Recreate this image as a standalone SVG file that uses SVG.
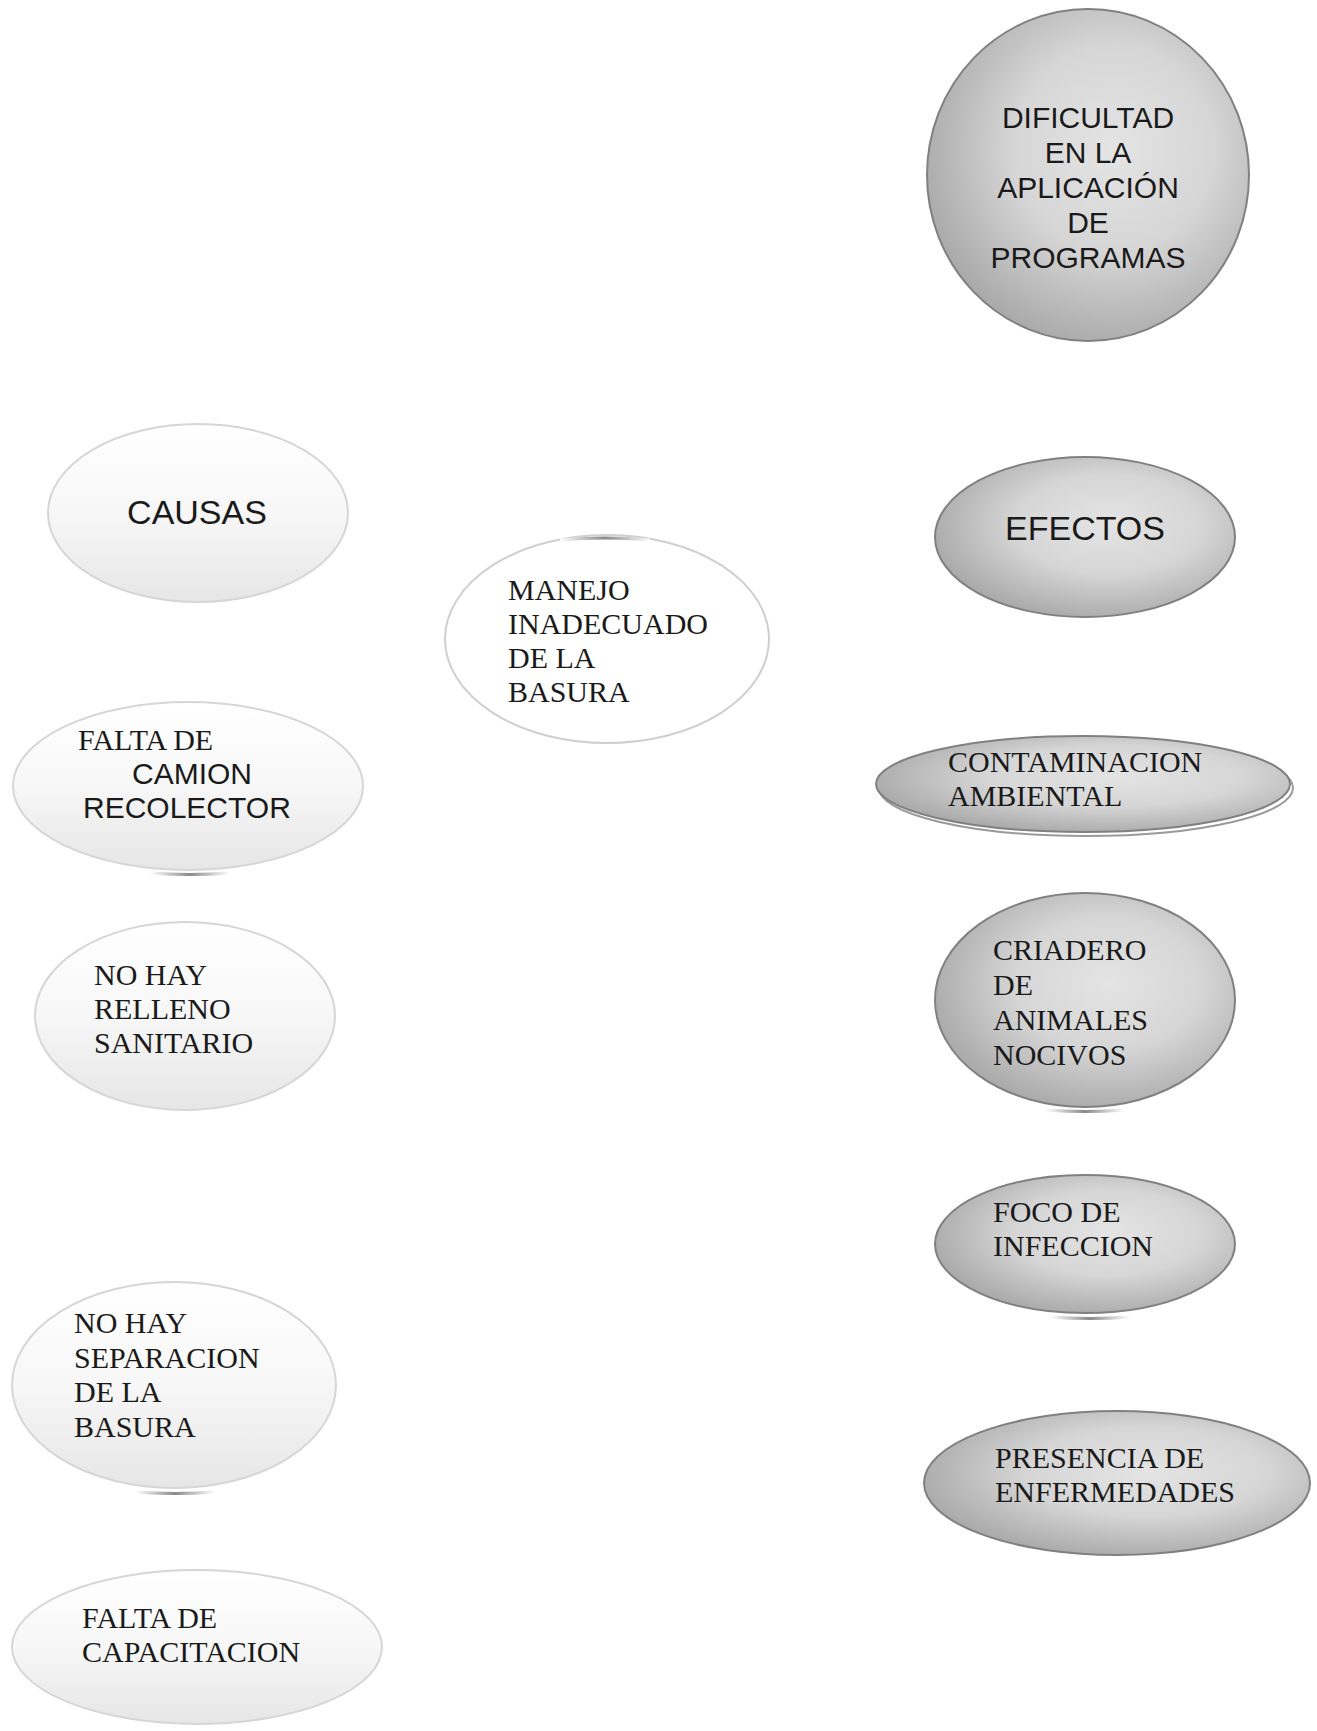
<svg xmlns="http://www.w3.org/2000/svg" width="1317" height="1731" viewBox="0 0 1317 1731">
<defs>
<linearGradient id="light" x1="0" y1="0" x2="0" y2="1">
<stop offset="0" stop-color="#ffffff"/>
<stop offset="0.5" stop-color="#f7f7f7"/>
<stop offset="1" stop-color="#e6e6e6"/>
</linearGradient>
<radialGradient id="metal" cx="0.58" cy="0.42" r="0.62">
<stop offset="0" stop-color="#e4e4e4"/>
<stop offset="0.5" stop-color="#d6d6d6"/>
<stop offset="1" stop-color="#a8a8a8"/>
</radialGradient>
<linearGradient id="shadow" x1="0" y1="0" x2="1" y2="0">
<stop offset="0" stop-color="#ffffff"/>
<stop offset="0.5" stop-color="#8a8a8a"/>
<stop offset="1" stop-color="#ffffff"/>
</linearGradient>
</defs>
<style>
.lt{fill:url(#light);stroke:#d6d6d6;stroke-width:2}
.wh{fill:#ffffff;stroke:#cfcfcf;stroke-width:2}
.mt{fill:url(#metal);stroke:#808080;stroke-width:2}
.sh{fill:none;stroke:url(#shadow);stroke-width:3}
.sans{font-family:"Liberation Sans",Arial,sans-serif;fill:#1a1a1a}
.serif{font-family:"Liberation Serif","Times New Roman",serif;font-size:30px;fill:#1a1a1a}
.s30{font-size:30px}
.s34{font-size:34px}
</style>
<rect width="1317" height="1731" fill="#ffffff"/>
<g id="connectors"></g>

<g id="dificultad">
<ellipse class="mt" cx="1088" cy="175" rx="161" ry="166"/>
<text class="sans s30" text-anchor="middle" x="1088"><tspan x="1088" y="128">DIFICULTAD</tspan><tspan x="1088" y="163">EN LA</tspan><tspan x="1088" y="198">APLICACIÓN</tspan><tspan x="1088" y="233">DE</tspan><tspan x="1088" y="268">PROGRAMAS</tspan></text>
</g>

<g id="causas">
<ellipse class="lt" cx="198" cy="513" rx="150" ry="89"/>
<text class="sans s34" text-anchor="middle" x="197" y="524">CAUSAS</text>
</g>

<g id="efectos">
<ellipse class="mt" cx="1085" cy="537" rx="150" ry="80"/>
<text class="sans s34" text-anchor="middle" x="1085" y="540">EFECTOS</text>
</g>

<g id="manejo">
<ellipse class="wh" cx="607" cy="639" rx="162" ry="104"/>
<path class="sh" d="M560 540 Q605 536 650 540"/>
<text class="serif"><tspan x="508" y="600">MANEJO</tspan><tspan x="508" y="634">INADECUADO</tspan><tspan x="508" y="668">DE LA</tspan><tspan x="508" y="702">BASURA</tspan></text>
</g>

<g id="falta-camion">
<ellipse class="lt" cx="188" cy="786" rx="175" ry="84"/>
<path class="sh" d="M150 873 Q190 876 230 873"/>
<text class="serif" x="78" y="750">FALTA DE</text>
<text class="sans s30"><tspan x="132" y="784">CAMION</tspan><tspan x="83" y="818">RECOLECTOR</tspan></text>
</g>

<g id="contaminacion">
<ellipse cx="1086" cy="788" rx="207" ry="48" fill="none" stroke="#9a9a9a" stroke-width="2"/>
<ellipse class="mt" cx="1083" cy="784" rx="207" ry="48"/>
<text class="serif"><tspan x="948" y="772">CONTAMINACION</tspan><tspan x="948" y="806">AMBIENTAL</tspan></text>
</g>

<g id="relleno">
<ellipse class="lt" cx="185" cy="1016" rx="150" ry="94"/>
<text class="serif"><tspan x="94" y="985">NO HAY</tspan><tspan x="94" y="1019">RELLENO</tspan><tspan x="94" y="1053">SANITARIO</tspan></text>
</g>

<g id="criadero">
<ellipse class="mt" cx="1085" cy="1000" rx="150" ry="107"/>
<path class="sh" d="M1045 1110 Q1085 1113 1125 1110"/>
<text class="serif"><tspan x="993" y="960">CRIADERO</tspan><tspan x="993" y="995">DE</tspan><tspan x="993" y="1030">ANIMALES</tspan><tspan x="993" y="1065">NOCIVOS</tspan></text>
</g>

<g id="foco">
<ellipse class="mt" cx="1085" cy="1244" rx="150" ry="69"/>
<path class="sh" d="M1050 1317 Q1090 1320 1130 1317"/>
<text class="serif"><tspan x="993" y="1222">FOCO DE</tspan><tspan x="993" y="1256">INFECCION</tspan></text>
</g>

<g id="separacion">
<ellipse class="lt" cx="174" cy="1385" rx="162" ry="103"/>
<path class="sh" d="M135 1492 Q175 1495 215 1492"/>
<text class="serif"><tspan x="74" y="1333">NO HAY</tspan><tspan x="74" y="1368">SEPARACION</tspan><tspan x="74" y="1402">DE LA</tspan><tspan x="74" y="1437">BASURA</tspan></text>
</g>

<g id="presencia">
<ellipse class="mt" cx="1117" cy="1483" rx="193" ry="72"/>
<text class="serif"><tspan x="995" y="1468">PRESENCIA DE</tspan><tspan x="995" y="1502">ENFERMEDADES</tspan></text>
</g>

<g id="capacitacion">
<ellipse class="lt" cx="197" cy="1647" rx="185" ry="77"/>
<text class="serif"><tspan x="82" y="1628">FALTA DE</tspan><tspan x="82" y="1662">CAPACITACION</tspan></text>
</g>
</svg>
